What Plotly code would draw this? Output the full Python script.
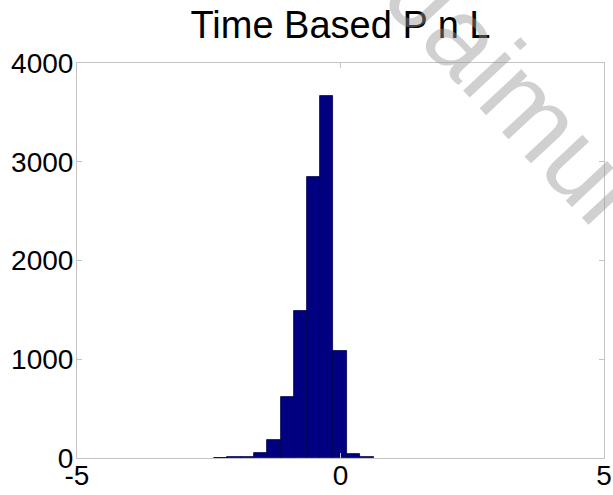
import plotly.graph_objects as go

# Histogram bins (centers), bin width and counts
bin_centers = [-2.27, -2.02, -1.77, -1.52, -1.26, -1.01, -0.76, -0.51, -0.26, -0.01, 0.25, 0.50]
bin_width = 0.2527
counts = [5, 6, 15, 49, 185, 617, 1489, 2842, 3666, 1083, 40, 8]

x_ticks = [-5, 0, 5]
y_ticks = [0, 1000, 2000, 3000, 4000]

title_text = "Time Based P n L"
watermark = "Jaimul"

font_family = "Liberation Sans, Arial, sans-serif"
axis_grey = "#c4c4c4"

fig = go.Figure()
fig.add_trace(go.Bar(
    x=bin_centers,
    y=counts,
    width=bin_width,
    marker=dict(color="#000080", line=dict(color="#00004a", width=0.8)),
    showlegend=False,
))

axis_common = dict(
    showline=True, linecolor=axis_grey, linewidth=1, mirror="ticks",
    ticks="inside", ticklen=5, tickcolor=axis_grey, tickwidth=1,
    showgrid=False, zeroline=False, automargin=False,
    tickfont=dict(family=font_family, size=28, color="black"),
)

fig.update_layout(
    width=613, height=495,
    margin=dict(l=77, r=9, t=63, b=37, autoexpand=False),
    paper_bgcolor="white", plot_bgcolor="white",
    bargap=0,
    title=dict(text=title_text, x=0.5, xref="paper", xanchor="center",
               y=1 - 25 / 495, yref="container", yanchor="middle",
               font=dict(family=font_family, size=38, color="black")),
    xaxis=dict(range=[-5, 5], tickvals=x_ticks, ticktext=[str(v) for v in x_ticks],
               ticklabelstandoff=-8, **axis_common),
    yaxis=dict(range=[0, 4000], tickvals=y_ticks, ticktext=[str(v) for v in y_ticks],
               ticklabelstandoff=-3, **axis_common),
    annotations=[dict(
        text=watermark, xref="paper", yref="paper", x=0.83, y=0.93,
        xanchor="center", yanchor="middle", showarrow=False, textangle=47,
        font=dict(family=font_family, size=108, color="rgba(150,150,150,0.45)"),
    )],
)

fig.write_html(
    "out.html",
    config={"displayModeBar": False},
    post_script="document.body.style.margin='0';document.body.style.padding='0';",
)
